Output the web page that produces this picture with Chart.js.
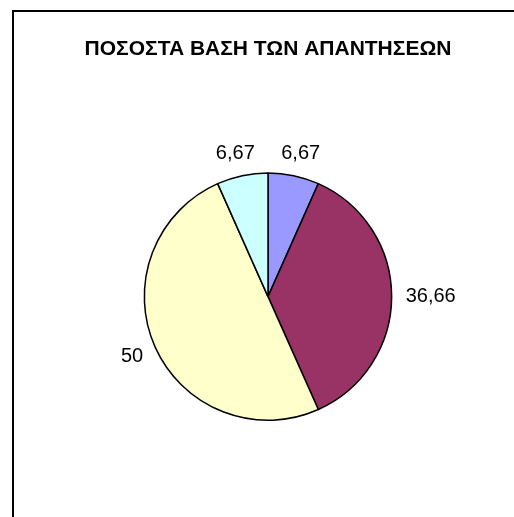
<!DOCTYPE html>
<html>
<head>
<meta charset="utf-8">
<script src="https://cdn.jsdelivr.net/npm/chart.js@4.4.0/dist/chart.umd.min.js"></script>
<style>
    html, body { margin: 0; padding: 0; background: #fff; overflow: hidden; }
    #frame {
        position: absolute;
        left: 12px;
        top: 10px;
        width: 520px;
        height: 540px;
        border: 2px solid #000;
    }
    #wrap {
        position: absolute;
        left: 0;
        top: 0;
        width: 508px;
        height: 505px;
    }
</style>
</head>
<body>
<div id="frame">
    <div id="wrap"><canvas id="pieChart"></canvas></div>
</div>
<script>
const chartTitle = 'ΠΟΣΟΣΤΑ ΒΑΣΗ ΤΩΝ ΑΠΑΝΤΗΣΕΩΝ';
const categories = ['1', '2', '3', '4'];
const shares = [6.67, 36.66, 50, 6.67];
const shareLabels = ['6,67', '36,66', '50', '6,67'];
const sliceColors = ['#9999FF', '#993366', '#FFFFCC', '#CCFFFF'];

// Values written just outside each slice, pushed away along the slice's mid angle
const outsideLabels = {
    id: 'outsideLabels',
    afterDatasetsDraw(chart) {
        const ctx = chart.ctx;
        const meta = chart.getDatasetMeta(0);
        ctx.save();
        ctx.font = '20px "Liberation Sans", Arial, sans-serif';
        ctx.fillStyle = '#000';
        ctx.textAlign = 'center';
        ctx.textBaseline = 'middle';
        meta.data.forEach((arc, i) => {
            const p = arc.getProps(['x', 'y', 'startAngle', 'endAngle', 'outerRadius'], true);
            const mid = (p.startAngle + p.endAngle) / 2;
            const r = p.outerRadius + 14;
            const text = shareLabels[i];
            const w = ctx.measureText(text).width;
            const h = 18;
            const cx = p.x + Math.cos(mid) * r + Math.cos(mid) * w / 2;
            const cy = p.y + Math.sin(mid) * r + Math.sin(mid) * h / 2;
            ctx.fillText(text, cx, cy);
        });
        ctx.restore();
    }
};

new Chart(document.getElementById('pieChart'), {
    type: 'pie',
    data: {
        labels: categories,
        datasets: [{
            data: shares,
            backgroundColor: sliceColors,
            borderColor: '#000',
            borderWidth: 1.5
        }]
    },
    options: {
        responsive: true,
        maintainAspectRatio: false,
        animation: false,
        layout: { padding: { top: 0, bottom: 96, left: 0, right: 0 } },
        plugins: {
            legend: { display: false },
            tooltip: { enabled: false },
            title: {
                display: true,
                text: chartTitle,
                color: '#000',
                font: { family: '"Liberation Sans", Arial, sans-serif', size: 21, weight: 'bold', lineHeight: 1.2 },
                padding: { top: 25, bottom: 110 }
            }
        }
    },
    plugins: [outsideLabels]
});
</script>
</body>
</html>
